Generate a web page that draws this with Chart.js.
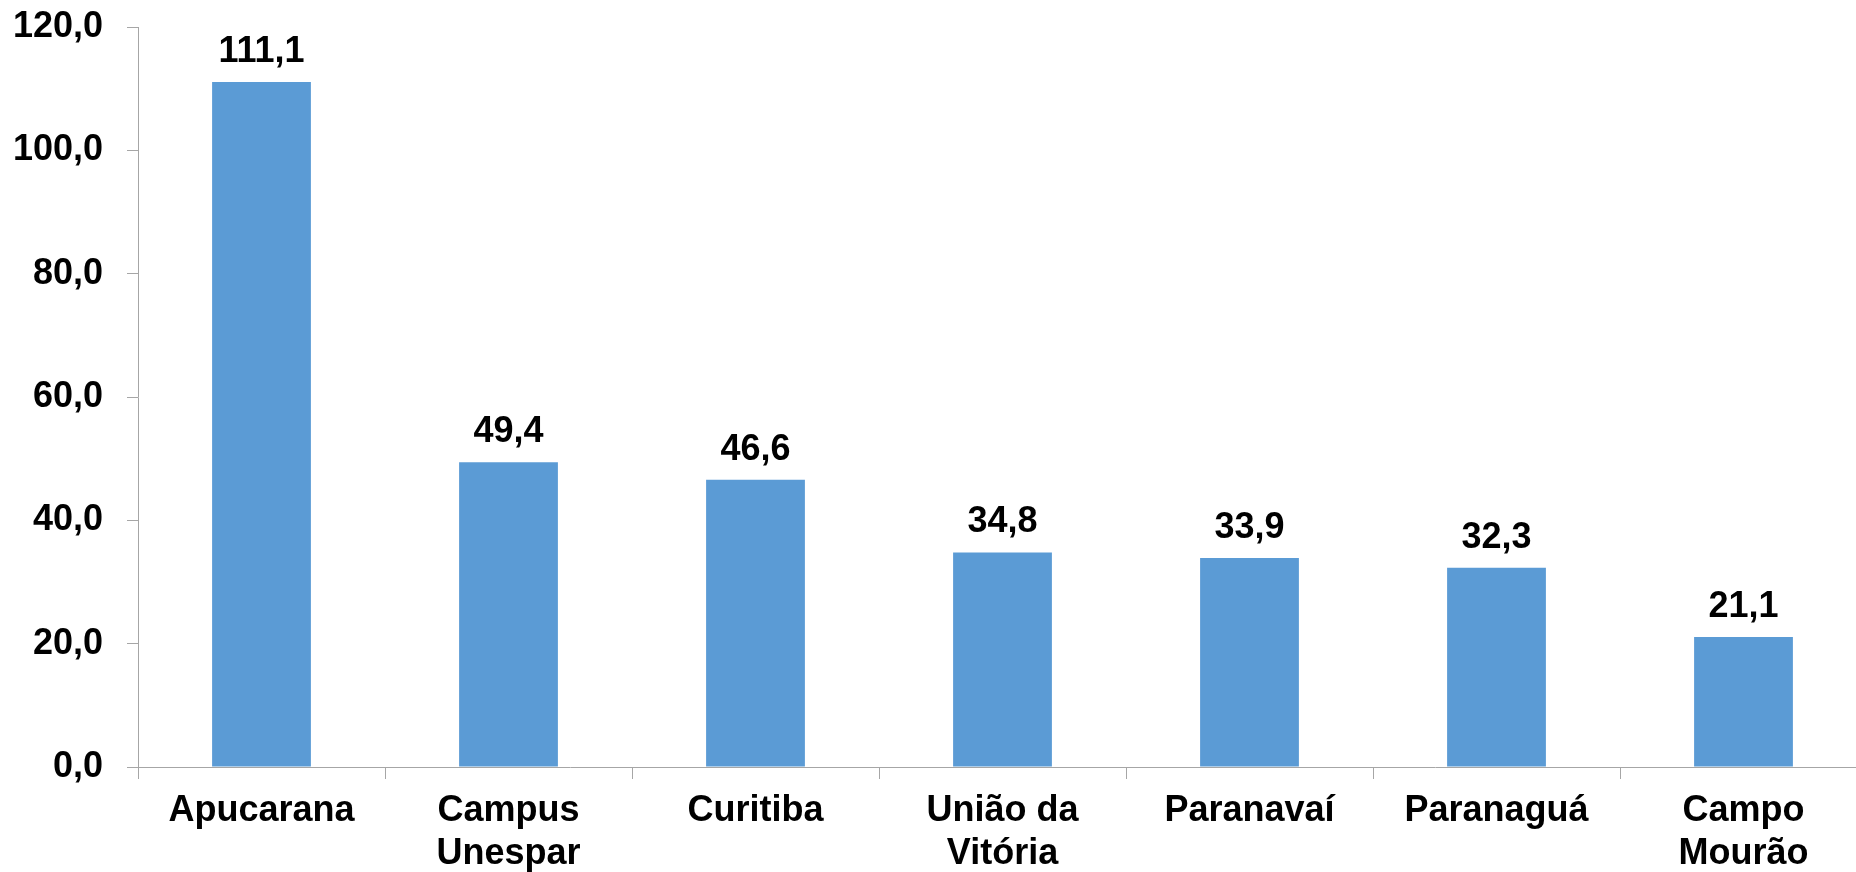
<!DOCTYPE html>
<html lang="pt-BR">
<head>
<meta charset="utf-8">
<title>Unespar por campus</title>
<script src="https://cdn.jsdelivr.net/npm/chart.js"></script>
<style>
  html, body { margin: 0; padding: 0; background: #fff; overflow: hidden; }
  #wrap { width: 1870px; height: 872px; }
  canvas { display: block; }
</style>
</head>
<body>
<div id="wrap"><canvas id="grafico" width="1870" height="872"></canvas></div>
<script>
const campus = [
  "Apucarana",
  ["Campus", "Unespar"],
  "Curitiba",
  ["União da", "Vitória"],
  "Paranavaí",
  "Paranaguá",
  ["Campo", "Mourão"]
];
const valores = [111.1, 49.4, 46.6, 34.8, 33.9, 32.3, 21.1];
const eixoMin = 0;
const eixoMax = 120;
const eixoPasso = 20;

const fonte = "'Liberation Sans', Arial, sans-serif";
const corEixo = "#a6a6a6";

function formatar(v) {
  return Number(v).toFixed(1).replace(".", ",");
}

// rotulos em cima das barras
const rotulosBarras = {
  id: "rotulosBarras",
  afterDatasetsDraw(chart) {
    const ctx = chart.ctx;
    const meta = chart.getDatasetMeta(0);
    ctx.save();
    ctx.font = "bold 36px " + fonte;
    ctx.fillStyle = "#000";
    ctx.textAlign = "center";
    ctx.textBaseline = "alphabetic";
    meta.data.forEach((bar, i) => {
      ctx.fillText(formatar(valores[i]), bar.x, bar.y - 20);
    });
    ctx.restore();
  }
};

document.addEventListener("DOMContentLoaded", function () {
  new Chart(document.getElementById("grafico"), {
    type: "bar",
    data: {
      labels: campus,
      datasets: [{
        data: valores,
        backgroundColor: "#5b9bd5",
        borderWidth: 0,
        categoryPercentage: 1,
        barPercentage: 0.4
      }]
    },
    options: {
      responsive: false,
      animation: false,
      layout: { padding: { top: 27, right: 3, left: 0, bottom: 0 } },
      plugins: {
        legend: { display: false },
        tooltip: { enabled: false }
      },
      scales: {
        x: {
          grid: {
            display: true,
            drawOnChartArea: false,
            drawTicks: true,
            tickLength: 12,
            color: corEixo,
            offset: true
          },
          border: { display: true, color: corEixo, width: 1 },
          ticks: {
            color: "#000",
            padding: 10,
            maxRotation: 0,
            autoSkip: false,
            font: { family: fonte, size: 36, weight: "bold", lineHeight: 1.2 }
          },
          afterFit(scale) {
            scale.height = 105;
            scale.paddingTop = 0;
            scale.paddingLeft = 0;
            scale.paddingRight = 0;
          }
        },
        y: {
          min: eixoMin,
          max: eixoMax,
          grid: {
            display: true,
            drawOnChartArea: false,
            drawTicks: true,
            tickLength: 11,
            color: corEixo
          },
          border: { display: true, color: corEixo, width: 1 },
          ticks: {
            stepSize: eixoPasso,
            color: "#000",
            padding: 24,
            font: { family: fonte, size: 36, weight: "bold" },
            callback: v => formatar(v)
          },
          afterFit(scale) {
            scale.width = 138;
            scale.paddingTop = 0;
            scale.paddingBottom = 0;
          }
        }
      }
    },
    plugins: [rotulosBarras]
  });
});
</script>
</body>
</html>
